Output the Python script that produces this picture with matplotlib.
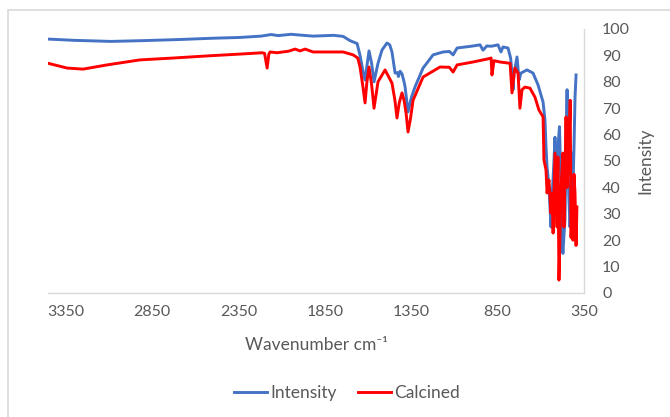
"""FTIR spectra: as-prepared vs calcined sample (Excel-style chart)."""

import matplotlib

matplotlib.use("Agg")
import matplotlib.pyplot as plt
from matplotlib.patches import Rectangle

plt.rcParams["font.family"] = ["Lato", "DejaVu Sans"]

C_BLUE = "#4472C4"
C_RED = "#FF0000"
C_TXT = "#595959"
C_GRID = "#D9D9D9"

# Intensity (blue) — wavenumber, value
wn_int = [3459, 3300, 3089, 2900, 2700, 2500, 2342, 2220, 2162, 2120, 2046,
          1994, 1919, 1800, 1745, 1705, 1687, 1664, 1647, 1630, 1618, 1607,
          1595, 1580, 1566, 1543, 1520, 1491, 1475, 1462, 1450, 1444, 1430,
          1425, 1415, 1404, 1392, 1386, 1369, 1350, 1329, 1282, 1224, 1166,
          1130, 1108, 1085, 1000, 952, 935, 912, 900, 883, 870, 848, 831,
          819, 790, 775, 767, 761, 755, 738, 726, 715, 680, 645, 616, 587,
          576, 570, 564, 558, 553, 541, 535, 524, 518, 512, 506, 501, 492,
          483, 477, 472, 466, 460, 454, 448, 443, 437, 431, 425, 419, 414,
          408, 402, 396]
val_int = [96.2, 95.7, 95.3, 95.6, 96.0, 96.5, 96.8, 97.3, 97.9, 97.5, 98.0,
           97.7, 97.3, 97.6, 97.2, 95.6, 95.1, 94.5, 90.0, 84.0, 80.7, 86.0,
           91.7, 87.0, 80.0, 87.0, 92.0, 94.7, 94.0, 91.3, 86.0, 83.3, 83.5,
           82.0, 84.0, 83.0, 80.0, 78.0, 68.6, 74.0, 78.0, 85.2, 90.2, 91.3,
           91.5, 90.2, 92.8, 93.5, 94.0, 92.0, 93.6, 93.5, 93.5, 93.7, 94.0,
           91.3, 93.2, 92.8, 89.0, 83.3, 77.0, 83.0, 89.4, 80.7, 83.3, 84.5,
           83.3, 78.8, 72.3, 65.5, 55.3, 47.7, 44.0, 40.0, 25.0, 36.0, 50.0,
           59.0, 40.0, 32.6, 55.0, 63.0, 40.0, 20.0, 15.0, 22.0, 27.6, 55.0,
           77.0, 46.6, 35.0, 25.0, 35.0, 53.0, 40.0, 55.0, 74.0, 82.6]

# Calcined (red)
wn_cal = [3459, 3343, 3251, 3112, 2921, 2730, 2533, 2342, 2214, 2200, 2185,
          2175, 2168, 2128, 2060, 2023, 1994, 1965, 1919, 1763, 1745, 1687,
          1660, 1647, 1630, 1618, 1607, 1595, 1580, 1566, 1543, 1502, 1462,
          1445, 1433, 1420, 1404, 1392, 1380, 1369, 1355, 1340, 1282, 1184,
          1130, 1108, 1085, 993, 912, 888, 883, 871, 836, 778, 767, 755, 750,
          732, 721, 709, 692, 663, 634, 611, 587, 582, 570, 564, 553, 541,
          535, 529, 518, 506, 501, 495, 483, 472, 466, 454, 448, 437, 430,
          425, 419, 414, 408, 402, 396, 391]
val_cal = [87.1, 85.2, 84.8, 86.4, 88.3, 89.0, 89.8, 90.5, 91.0, 90.8, 85.2,
           90.5, 91.3, 91.0, 91.6, 92.4, 91.7, 92.4, 91.3, 91.3, 91.3, 90.2,
           89.0, 85.6, 78.0, 72.0, 80.0, 85.6, 79.0, 70.0, 80.0, 84.5, 79.5,
           73.0, 66.3, 72.0, 75.8, 73.0, 68.0, 61.0, 66.0, 73.0, 81.8, 85.6,
           85.5, 83.7, 86.4, 87.5, 88.6, 89.0, 82.6, 88.0, 87.5, 87.0, 75.8,
           83.0, 85.2, 83.3, 70.0, 77.0, 78.0, 77.6, 74.2, 69.3, 66.7, 50.4,
           46.6, 37.9, 42.8, 30.3, 37.9, 22.7, 53.0, 25.0, 51.5, 4.9, 40.0,
           53.0, 25.0, 66.7, 40.0, 55.0, 73.0, 21.0, 32.6, 20.0, 45.0, 37.9,
           18.0, 32.6]

X_TICKS = [3350, 2850, 2350, 1850, 1350, 850, 350]
Y_TICKS = list(range(0, 101, 10))

fig = plt.figure(figsize=(6.7, 4.17), dpi=100)
# рамка области диаграммы (как в Excel), уходит за правый/нижний край
fig.patches.append(Rectangle((8 / 670, -0.2), 1.2, 1.2 - 10 / 417,
                             transform=fig.transFigure, fill=False,
                             edgecolor=C_GRID, lw=1.2))

ax = fig.add_axes([48 / 670, 1 - 293 / 417, 536 / 670, 264 / 417])
ax.plot(wn_int, val_int, color=C_BLUE, lw=2.1, label="Intensity",
        solid_joinstyle="round")
ax.plot(wn_cal, val_cal, color=C_RED, lw=2.1, label="Calcined",
        solid_joinstyle="round")

ax.set_xlim(3454, 350)
ax.set_ylim(0, 100)
ax.set_xticks(X_TICKS)
ax.set_yticks(Y_TICKS)
ax.yaxis.tick_right()
ax.tick_params(axis="both", length=0, labelsize=11.5, labelcolor=C_TXT)
ax.tick_params(axis="x", pad=9)
ax.tick_params(axis="y", pad=13)
for lbl in ax.get_yticklabels():
    lbl.set_horizontalalignment("left")

for side in ("top", "left"):
    ax.spines[side].set_visible(False)
for side in ("bottom", "right"):
    ax.spines[side].set_color(C_GRID)
    ax.spines[side].set_linewidth(1.0)

ax.set_xlabel("Wavenumber cm\u207b\u00b9", fontsize=12.5, color=C_TXT)
ax.xaxis.set_label_coords(0.5, -0.197)
ax.xaxis.label.set_va("center")
ax.set_ylabel("Intensity", fontsize=12.5, color=C_TXT, rotation=90)
ax.yaxis.set_label_position("right")
ax.yaxis.set_label_coords(1.114, 0.5)
ax.yaxis.label.set_va("center")

fig.legend(loc="center", bbox_to_anchor=(347 / 670, 1 - 393 / 417), ncol=2,
           frameon=False, fontsize=12.5, labelcolor=C_TXT, handlelength=1.9,
           handletextpad=0.2, columnspacing=1.2)

fig.savefig("out.png", dpi=100, facecolor="white")
